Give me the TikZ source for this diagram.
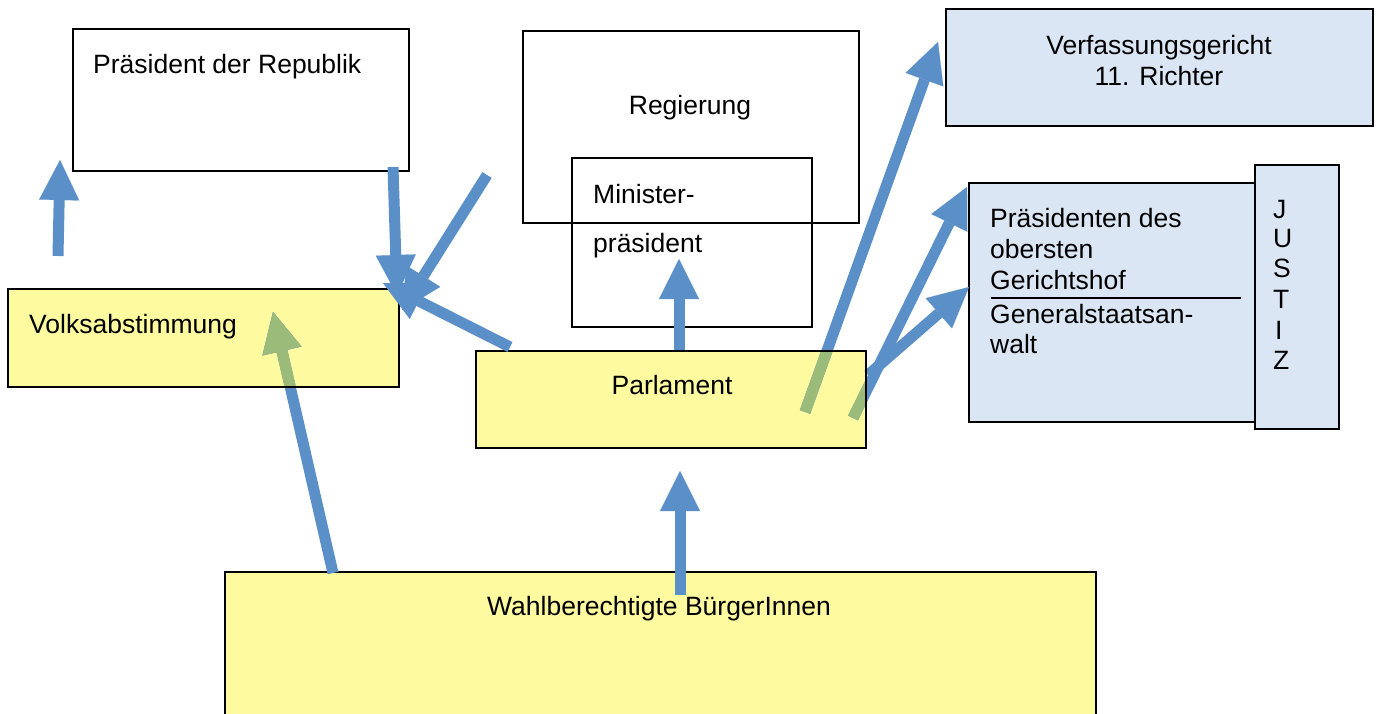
\documentclass[tikz,border=0pt]{standalone}
\usepackage{fontspec}
\setmainfont{Liberation Sans}
\usetikzlibrary{arrows.meta}
\definecolor{arrblue}{HTML}{5A8FC8}
\definecolor{arrgreen}{HTML}{9BBB7B}
\definecolor{boxyellow}{HTML}{FEFA9F}
\definecolor{boxblue}{HTML}{DBE6F4}
\begin{document}
\begin{tikzpicture}[x=1pt,y=-1pt,
  font=\fontsize{26.5}{30.5}\selectfont,
  box/.style={draw=black, line width=1.5pt, inner sep=0pt, outer sep=0pt, anchor=north west},
  txt/.style={inner sep=0pt, anchor=base west},
  ctxt/.style={inner sep=0pt, anchor=base},
  arr/.style={draw=arrblue, line width=11pt, -{Triangle[width=40pt,length=40pt,line width=0.1pt]}},
  garr/.style={arr, draw=arrgreen}]
\fill[white] (0,0) rectangle (1376,713);
\path[use as bounding box, clip] (0,0) rectangle (1376,713);

% boxes
\node[box, minimum width=336pt, minimum height=142pt] (praes) at (73,29) {};
\node[box, minimum width=336pt, minimum height=192pt] (reg) at (523,31) {};
\node[box, minimum width=240pt, minimum height=169pt] (mini) at (572,158) {};
\node[box, fill=boxblue, minimum width=427pt, minimum height=117pt] (verf) at (946,9) {};
\node[box, fill=boxblue, minimum width=287pt, minimum height=239pt] (ogh) at (969,183) {};
\node[box, fill=boxblue, minimum width=84pt, minimum height=264pt] (justiz) at (1255,165) {};
\node[box, fill=boxyellow, minimum width=871pt, minimum height=170pt] (wahl) at (225,572) {};
\node[box, fill=boxyellow, minimum width=391pt, minimum height=98pt] (volks) at (8,289) {};
\node[box, fill=boxyellow, minimum width=390pt, minimum height=97pt] (parl) at (476,351) {};

% arrow endpoints
\coordinate (a1s) at (58,256);  \coordinate (a1e) at (60,160);
\coordinate (a2s) at (393,167); \coordinate (a2e) at (397,295);
\coordinate (a3s) at (487,175); \coordinate (a3e) at (402,310);
\coordinate (a4s) at (510,347); \coordinate (a4e) at (383,283);
\coordinate (a5s) at (333,573); \coordinate (a5e) at (273,312);
\coordinate (a6s) at (805,412); \coordinate (a6e) at (938,42);
\coordinate (a7s) at (853,418); \coordinate (a7e) at (967,187);
\coordinate (a8s) at (868,375); \coordinate (a8e) at (969,287);
\coordinate (a9s) at (679,352); \coordinate (a9e) at (679,259);
\coordinate (a10s) at (680,595); \coordinate (a10e) at (680,471);

\draw[arr] (a1s) -- (a1e);
\draw[arr] (a5s) -- (a5e);
\draw[arr] (a6s) -- (a6e);
\draw[arr] (a7s) -- (a7e);
\draw[arr] (a8s) -- (a8e);
\draw[arr] (a9s) -- (a9e);
\draw[arr] (a10s) -- (a10e);

% parts of arrows lying over yellow boxes look green
\begin{scope}
  \clip (volks.north west) rectangle (volks.south east);
  \draw[garr] (a5s) -- (a5e);
\end{scope}
\begin{scope}
  \clip (parl.north west) rectangle (parl.south east);
  \draw[garr] (a6s) -- (a6e);
  \draw[garr] (a7s) -- (a7e);
\end{scope}
\draw[line width=1.5pt] (volks.north west) rectangle (volks.south east);
\draw[line width=1.5pt] (parl.north west) rectangle (parl.south east);

% converging arrows lie on top of the box corner
\draw[arr] (a2s) -- (a2e);
\draw[arr] (a3s) -- (a3e);
\draw[arr] (a4s) -- (a4e);

% texts
\node[txt] (t1) at (93,73) {Präsident der Republik};
\node[ctxt] (t2) at (690,114) {Regierung};
\node[txt] (t3) at (593,203) {Minister-};
\node[txt] (t4) at (593,252) {präsident};
\node[ctxt] (t5) at (1159,54) {Verfassungsgericht};
\node[ctxt] (t6) at (1159,85) {11. Richter};
\node[txt] (t7) at (990,227) {Präsidenten des};
\node[txt] (t8) at (990,258) {obersten};
\node[txt] (t9) at (990,289) {Gerichtshof};
\draw[line width=1.5pt] (991,298) -- (1241,298);
\node[txt] (t10) at (990,323) {Generalstaatsan-};
\node[txt] (t11) at (990,353) {walt};
\node[txt] (j1) at (1273,218) {J};
\node[txt] (j2) at (1273,247) {U};
\node[txt] (j3) at (1273,277) {S};
\node[txt] (j4) at (1273,308) {T};
\node[txt] (j5) at (1275,339) {I};
\node[txt] (j6) at (1273,369) {Z};
\node[txt] (t12) at (29,333) {Volksabstimmung};
\node[ctxt] (t13) at (672,394) {Parlament};
\node[txt] (t14) at (487,615) {Wahlberechtigte BürgerInnen};
\end{tikzpicture}
\end{document}
